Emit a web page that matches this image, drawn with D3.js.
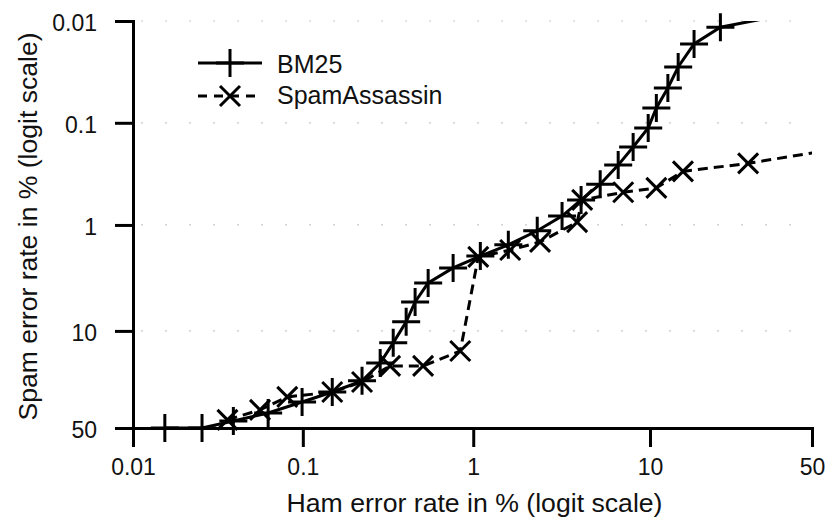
<!DOCTYPE html>
<html>
<head>
<meta charset="utf-8">
<script src="https://cdn.jsdelivr.net/npm/d3@7"></script>
<style>
  html, body { margin: 0; padding: 0; background: #fff; }
  svg { display: block; font-family: "Liberation Sans", Arial, Helvetica, sans-serif; }
</style>
</head>
<body>
<svg id="chart" width="827" height="520"></svg>
<script>
// ---- data (percent values) ----
const bm25Ham  = [0.0154, 0.0255, 0.039, 0.0625, 0.099, 0.149, 0.223, 0.285, 0.34, 0.405, 0.457, 0.545, 0.763, 1.10, 1.60, 2.35, 3.26, 4.18, 5.35, 6.73, 8.12, 9.78, 10.8, 12.4, 14.0, 16.8, 22.4, 40.7];
const bm25Spam = [50, 50, 46, 41.6, 35.7, 30.7, 25.6, 18.7, 12.7, 8.3, 5.45, 3.62, 2.60, 2.0, 1.56, 1.14, 0.82, 0.57, 0.40, 0.26, 0.173, 0.1125, 0.0716, 0.0455, 0.0283, 0.0168, 0.0115, 0.0087];
const saHam    = [0.036, 0.056, 0.081, 0.149, 0.223, 0.326, 0.509, 0.84, 1.07, 1.64, 2.44, 3.97, 4.24, 7.17, 10.8, 14.8, 29.6, 56];
const saSpam   = [45.4, 39.9, 33.1, 30.7, 26.1, 19.7, 19.7, 14.9, 2.04, 1.75, 1.46, 0.94, 0.57, 0.48, 0.435, 0.30, 0.25, 0.185];
const seriesNames = ["BM25", "SpamAssassin"];
const xTicks = [0.01, 0.1, 1, 10, 50];
const xTickLabels = ["0.01", "0.1", "1", "10", "50"];
const yTicks = [0.01, 0.1, 1, 10, 50];
const yTickLabels = ["0.01", "0.1", "1", "10", "50"];
const xTitle = "Ham error rate in % (logit scale)";
const yTitle = "Spam error rate in % (logit scale)";

// ---- layout ----
const L = 133, R = 812, T = 21, B = 428;
const logit = p => Math.log(p / (100 - p));
const xLin = d3.scaleLinear().domain([logit(0.01), logit(50)]).range([L, R]);
const yLin = d3.scaleLinear().domain([logit(0.01), logit(50)]).range([T, B]);
const X = v => xLin(logit(v));
const Y = v => yLin(logit(v));

const svg = d3.select("#chart");

// faint dotted grid remnants
const grid = svg.append("g");
yTicks.slice(0, 4).forEach(t => {
  grid.append("line").attr("x1", L + 8).attr("x2", R).attr("y1", Y(t)).attr("y2", Y(t))
    .attr("stroke", "#c8c8c8").attr("stroke-width", 1.2).attr("stroke-dasharray", "2,22");
});

// clip for lines
svg.append("clipPath").attr("id", "plotclip").append("rect")
  .attr("x", L).attr("y", T).attr("width", R - L).attr("height", B - T + 2);

// axes
const xAxis = d3.axisBottom(xLin).tickValues(xTicks.map(logit))
  .tickFormat((d, i) => xTickLabels[i]).tickSizeOuter(0).tickSize(19).tickPadding(12);
const yAxis = d3.axisLeft(yLin).tickValues(yTicks.map(logit))
  .tickFormat((d, i) => yTickLabels[i]).tickSizeOuter(0).tickSize(18).tickPadding(18);

const gx = svg.append("g").attr("transform", `translate(0,${B})`).call(xAxis);
const gy = svg.append("g").attr("transform", `translate(${L},0)`).call(yAxis);
[gx, gy].forEach(g => {
  g.select(".domain").attr("stroke", "#000").attr("stroke-width", 3);
  g.selectAll(".tick line").attr("stroke", "#000").attr("stroke-width", 3);
  g.selectAll(".tick text").attr("fill", "#111").style("font-size", "23px")
    .style("font-family", "'Liberation Sans', Arial, Helvetica, sans-serif");
});
gy.selectAll(".tick text").attr("dy", "0.42em");
gx.selectAll(".tick text").attr("dy", "0.71em");

// axis titles
svg.append("text").attr("x", (L + R) / 2 + 2).attr("y", 512)
  .attr("text-anchor", "middle").style("font-size", "25px").attr("fill", "#111")
  .attr("textLength", 376).attr("lengthAdjust", "spacingAndGlyphs")
  .text(xTitle);
svg.append("text").attr("transform", `translate(37,${(T + B) / 2 + 2}) rotate(-90)`)
  .attr("text-anchor", "middle").style("font-size", "25px").attr("fill", "#111")
  .attr("textLength", 388).attr("lengthAdjust", "spacingAndGlyphs")
  .text(yTitle);

// series
const bm25 = bm25Ham.map((h, i) => ({ x: h, y: bm25Spam[i] }));
const sa = saHam.map((h, i) => ({ x: h, y: saSpam[i] }));
const line = d3.line().x(d => X(d.x)).y(d => Y(d.y));
const inDomain = d => d.x >= 0.01 && d.x <= 50 && d.y >= 0.01 && d.y <= 50;

const plot = svg.append("g");
plot.append("path").datum(sa).attr("clip-path", "url(#plotclip)")
  .attr("d", line).attr("fill", "none").attr("stroke", "#000").attr("stroke-width", 3)
  .attr("stroke-dasharray", "10,6");
plot.append("path").datum(bm25).attr("clip-path", "url(#plotclip)")
  .attr("d", line).attr("fill", "none").attr("stroke", "#000").attr("stroke-width", 3);

const plusPath = s => `M${-s},0H${s}M0,${-s}V${s}`;
const crossPath = s => `M${-s},${-s}L${s},${s}M${-s},${s}L${s},${-s}`;

plot.append("g").selectAll("path").data(sa.filter(inDomain)).join("path")
  .attr("transform", d => `translate(${X(d.x)},${Y(d.y)})`)
  .attr("d", crossPath(10)).attr("stroke", "#000").attr("stroke-width", 3).attr("fill", "none");
plot.append("g").selectAll("path").data(bm25.filter(inDomain)).join("path")
  .attr("transform", d => `translate(${X(d.x)},${Y(d.y)})`)
  .attr("d", plusPath(14)).attr("stroke", "#000").attr("stroke-width", 3).attr("fill", "none");

// legend
const leg = svg.append("g");
const rows = [
  { name: seriesNames[0], y: 63, ty: 73, dash: null, marker: plusPath(14) },
  { name: seriesNames[1], y: 96, ty: 104, dash: "10,6", marker: crossPath(10) }
];
rows.forEach(r => {
  leg.append("line").attr("x1", 198).attr("x2", 262).attr("y1", r.y).attr("y2", r.y)
    .attr("stroke", "#000").attr("stroke-width", 3)
    .attr("stroke-dasharray", r.dash ? "9,7" : null);
  leg.append("path").attr("transform", `translate(230,${r.y})`).attr("d", r.marker)
    .attr("stroke", "#000").attr("stroke-width", 3).attr("fill", "none");
  leg.append("text").attr("x", 277).attr("y", r.ty).style("font-size", "25px")
    .attr("fill", "#111").text(r.name);
});
</script>
</body>
</html>
